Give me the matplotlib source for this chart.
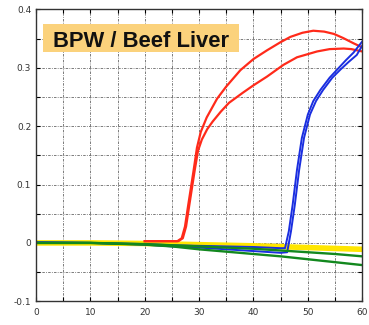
import matplotlib.pyplot as plt
from matplotlib.patches import Rectangle
from matplotlib.ticker import MultipleLocator, FuncFormatter

# time axis (x) and absorbance-like signal (y)
red_a_x = [20, 24, 26, 26.8, 27.4, 28, 28.5, 29, 29.6, 30.3, 31.4, 33.3, 35, 37.6, 40, 42.5, 45, 46.8, 49, 51, 53, 54.8, 56.5, 58.4, 60]
red_a_y = [0.003, 0.003, 0.003, 0.008, 0.028, 0.065, 0.095, 0.125, 0.163, 0.19, 0.215, 0.247, 0.268, 0.296, 0.315, 0.33, 0.344, 0.353, 0.36, 0.3635, 0.362, 0.358, 0.351, 0.342, 0.335]

red_b_x = [20, 24, 26.2, 27, 27.6, 28.2, 28.7, 29.2, 29.8, 30.5, 31.5, 32.5, 34, 35.5, 38, 40, 42.5, 45.5, 48, 51.7, 54, 56.6, 58, 60]
red_b_y = [0.003, 0.003, 0.003, 0.008, 0.028, 0.065, 0.095, 0.125, 0.158, 0.177, 0.195, 0.208, 0.225, 0.24, 0.257, 0.27, 0.285, 0.305, 0.318, 0.328, 0.332, 0.333, 0.332, 0.328]

blue_a_x = [0, 10, 20, 25, 30, 35, 40, 45, 45.8, 46.5, 47.2, 48, 48.9, 50, 51, 52.3, 54, 55.4, 57, 58.4, 60]
blue_a_y = [0.001, 0, -0.002, -0.004, -0.005, -0.006, -0.007, -0.009, -0.009, 0.02, 0.065, 0.125, 0.18, 0.22, 0.243, 0.262, 0.283, 0.297, 0.313, 0.326, 0.345]

blue_b_x = [0, 10, 20, 25, 30, 35, 40, 45, 46.2, 46.9, 47.6, 48.4, 49.3, 50.4, 51.5, 52.8, 54.5, 56, 57.5, 59, 60]
blue_b_y = [0.001, 0, -0.003, -0.006, -0.008, -0.011, -0.014, -0.017, -0.016, 0.02, 0.065, 0.125, 0.18, 0.22, 0.243, 0.262, 0.283, 0.297, 0.31, 0.322, 0.338]

green_x = [0, 10, 20, 25, 30, 35, 40, 45, 50, 55, 60]
green_a_y = [0, 0, -0.003, -0.006, -0.011, -0.015, -0.019, -0.023, -0.028, -0.033, -0.038]
green_b_y = [0, 0, -0.002, -0.004, -0.006, -0.008, -0.010, -0.013, -0.016, -0.019, -0.023]

yellow_x = [0, 10, 20, 30, 40, 50, 60]
yellow_y = [0, 0, -0.001, -0.003, -0.005, -0.008, -0.011]

fig = plt.figure(figsize=(3.69, 3.25), dpi=100)
ax = fig.add_axes([0.0976, 0.073, 0.884, 0.898])

ax.plot(yellow_x, yellow_y, color='#ffe600', linewidth=4, solid_capstyle='butt')
ax.plot(red_a_x, red_a_y, color='#ff2a1a', linewidth=1.6)
ax.plot(red_b_x, red_b_y, color='#ff2a1a', linewidth=1.6)
ax.plot(blue_a_x, blue_a_y, color='#1a2ee0', linewidth=1.4)
ax.plot(blue_b_x, blue_b_y, color='#1a2ee0', linewidth=1.4)
ax.plot(green_x, green_a_y, color='#12881e', linewidth=1.7)
ax.plot(green_x, green_b_y, color='#12881e', linewidth=1.7)

ax.set_xlim(0, 60)
ax.set_ylim(-0.1, 0.4)
ax.xaxis.set_major_locator(MultipleLocator(10))
ax.xaxis.set_minor_locator(MultipleLocator(5))
ax.yaxis.set_major_locator(MultipleLocator(0.1))
ax.yaxis.set_minor_locator(MultipleLocator(0.05))
ax.yaxis.set_major_formatter(FuncFormatter(lambda v, p: '0' if abs(v) < 1e-9 else ('%.1f' % v)))

# dash-dot grid on every major and minor step
ax.grid(which='both', color='#666666', linestyle=(0, (3, 1.5, 1, 1.5)), linewidth=0.6)
ax.set_axisbelow(True)
ax.tick_params(which='both', direction='in', length=3, width=0.8, labelsize=6.5,
               labelcolor='#333333', top=True, right=True)
ax.tick_params(axis='x', pad=5)
for s in ax.spines.values():
    s.set_color('#333333')
    s.set_linewidth(1.0)

# title label on an orange panel
fig.patches.append(Rectangle((0.1173, 0.841), 0.5312, 0.084, transform=fig.transFigure,
                             facecolor='#fbd27c', edgecolor='none', zorder=5))
fig.text(0.383, 0.8563, 'BPW / Beef Liver', family='Liberation Sans',
         fontsize=15.8, fontweight='bold', color='#111111', va='baseline', ha='center', zorder=6)

fig.savefig('out.png', dpi=100)
